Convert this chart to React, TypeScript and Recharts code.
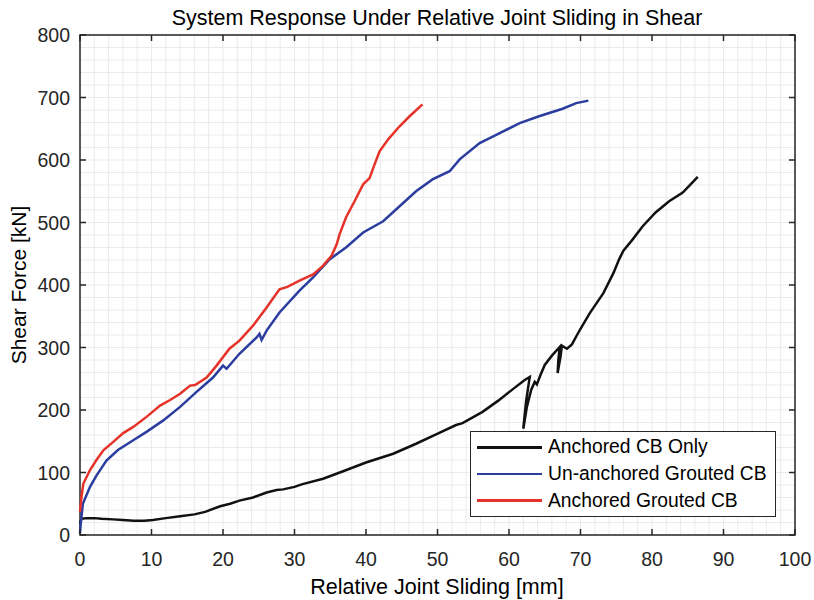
import {
  LineChart,
  Line,
  XAxis,
  YAxis,
  CartesianGrid,
  ReferenceArea,
  Legend,
} from "recharts";

// slip [mm], force [kN]
const anchoredCbOnly = [
  [0, 18], [0.2, 26], [1, 27], [2, 27], [3, 26], [4.6, 25], [6, 24], [7.5, 23],
  [9, 23], [10.2, 24], [12, 27], [14, 30], [16, 33], [17.5, 37], [19.6, 46],
  [21, 50], [22.3, 55], [24.2, 60], [26.1, 68], [27.5, 72], [28.4, 73], [30, 77],
  [31, 81], [34, 90], [36.8, 102], [40, 116], [43.8, 130], [47, 146], [49.8, 161],
  [52.6, 176], [53.5, 179], [56.3, 197], [58.5, 215], [60.5, 233], [62.2, 248],
  [62.9, 253], [62.4, 215], [62, 170], [62.5, 205], [63.1, 232], [63.6, 245],
  [63.9, 241], [64.4, 256], [65, 272], [66, 287], [67.1, 301], [66.9, 280],
  [66.8, 259], [67.2, 285], [67.4, 303], [68.1, 298], [68.8, 305], [69.9, 328],
  [71.3, 355], [73.2, 387], [74.6, 419], [75.4, 441], [76, 455], [77.3, 473],
  [78.7, 494], [80.5, 516], [82.4, 534], [84.3, 548], [85.4, 561], [86.4, 573],
];

const unanchoredGroutedCb = [
  [0, 3], [0.1, 18], [0.4, 50], [1.4, 77], [2.3, 95], [3.7, 119], [5.3, 136],
  [7.5, 152], [9.3, 165], [11.6, 183], [14, 205], [16.3, 229], [18.6, 252],
  [20, 271], [20.5, 266], [22.3, 290], [24.7, 316], [25.1, 322], [25.4, 312],
  [26.1, 327], [27.9, 356], [30.7, 391], [32.6, 412], [34.9, 441], [37.2, 460],
  [39.6, 484], [42.4, 502], [44.7, 526], [47, 550], [49.3, 569], [51.7, 582],
  [53.1, 601], [55.9, 627], [58.7, 643], [61.5, 659], [64.2, 670], [67.5, 682],
  [69.4, 691], [71.1, 695],
];

const anchoredGroutedCb = [
  [0, 37], [0.2, 60], [0.46, 82], [1.4, 104], [2.3, 120], [3.3, 136], [4.65, 149],
  [6.05, 163], [7.45, 173], [9.3, 189], [11.2, 207], [12.6, 216], [14, 226],
  [15.4, 239], [16.1, 240], [17.7, 252], [19.1, 271], [20.9, 298], [22.3, 311],
  [24.2, 335], [26.1, 364], [27.9, 393], [29, 397], [30.7, 407], [32.6, 417],
  [34, 431], [35.2, 447], [35.9, 465], [36.3, 481], [37.2, 508], [38.4, 534],
  [39.6, 561], [40.5, 571], [41.2, 593], [41.9, 614], [43.1, 633], [44.7, 654],
  [46.1, 670], [47.9, 689],
];

const xTicks = [0, 10, 20, 30, 40, 50, 60, 70, 80, 90, 100];
const yTicks = [0, 100, 200, 300, 400, 500, 600, 700, 800];
const xMinorTicks = [
  0, 2, 4, 6, 8, 10, 12, 14, 16, 18, 20, 22, 24, 26, 28, 30, 32, 34, 36, 38, 40, 42, 44, 46, 48, 50,
  52, 54, 56, 58, 60, 62, 64, 66, 68, 70, 72, 74, 76, 78, 80, 82, 84, 86, 88, 90, 92, 94, 96, 98, 100,
];
const yMinorTicks = [
  0, 20, 40, 60, 80, 100, 120, 140, 160, 180, 200, 220, 240, 260, 280, 300, 320, 340, 360, 380, 400,
  420, 440, 460, 480, 500, 520, 540, 560, 580, 600, 620, 640, 660, 680, 700, 720, 740, 760, 780, 800,
];

const seriesNames = ["Anchored CB Only", "Un-anchored Grouted CB", "Anchored Grouted CB"];
const seriesColors = ["#111111", "#2b3d9e", "#e5332a"];

const toPoints = (arr: number[][]) => arr.map(([x, y]) => ({ x, y }));

const FONT = "'Liberation Sans', Arial, Helvetica, sans-serif";
const INK = "#262626";
// plot box in svg coords
const PL = 80, PR = 795, PT = 35, PB = 535;

const XTick = (props: any) => {
  const { x, payload } = props;
  return (
    <g>
      <line x1={x} x2={x} y1={PB} y2={PB - 6} stroke={INK} strokeWidth={1.5} />
      <line x1={x} x2={x} y1={PT} y2={PT + 6} stroke={INK} strokeWidth={1.5} />
      <text x={x} y={566} textAnchor="middle" fontSize={19.5} fill={INK} fontFamily={FONT}>
        {payload.value}
      </text>
    </g>
  );
};

const YTick = (props: any) => {
  const { y, payload } = props;
  return (
    <g>
      <line x1={PL} x2={PL + 6} y1={y} y2={y} stroke={INK} strokeWidth={1.5} />
      <line x1={PR} x2={PR - 6} y1={y} y2={y} stroke={INK} strokeWidth={1.5} />
      <text x={70} y={y} textAnchor="end" dominantBaseline="central" fontSize={19.5} fill={INK} fontFamily={FONT}>
        {payload.value}
      </text>
    </g>
  );
};

const renderLegend = () => (
  <div
    style={{
      border: `1px solid ${INK}`,
      background: "#fff",
      width: 304,
      padding: "2px 0",
      fontFamily: FONT,
      fontSize: 19.3,
      color: "#000",
    }}
  >
    {seriesNames.map((name, i) => (
      <div key={name} style={{ display: "flex", alignItems: "center", height: 26.7 }}>
        <div style={{ width: 65, height: 2.5, background: seriesColors[i], marginLeft: 6, marginRight: 6 }} />
        <span>{name}</span>
      </div>
    ))}
  </div>
);

// minor grid through the axis scales
const applyScale = (axis: any, t: number) => {
  const s = axis && axis.scale;
  if (typeof s === "function") return s(t);
  if (s && typeof s.map === "function") return s.map(t);
  if (s && typeof s.apply === "function") return s.apply(t);
  return undefined;
};
const minorVertical = ({ xAxis }: any) =>
  xMinorTicks.map((t) => applyScale(xAxis, t)).filter((v) => typeof v === "number");
const minorHorizontal = ({ yAxis }: any) =>
  yMinorTicks.map((t) => applyScale(yAxis, t)).filter((v) => typeof v === "number");

export default function App() {
  return (
    <div style={{ width: 814, height: 600 }}>
      <style>{"html,body{margin:0;overflow:hidden}"}</style>
      <LineChart
        width={814}
        height={600}
        margin={{ top: 35, right: 19, bottom: 35, left: 20 }}
      >
        <CartesianGrid
          stroke="#ebebeb"
          strokeWidth={1}
          verticalCoordinatesGenerator={minorVertical}
          horizontalCoordinatesGenerator={minorHorizontal}
        />
        <XAxis
          type="number"
          dataKey="x"
          domain={[0, 100]}
          ticks={xTicks}
          interval={0}
          height={30}
          tickLine={false}
          axisLine={false}
          tick={XTick}
        />
        <YAxis
          type="number"
          dataKey="y"
          domain={[0, 800]}
          ticks={yTicks}
          interval={0}
          width={60}
          tickLine={false}
          axisLine={false}
          tick={YTick}
        />
        {[anchoredCbOnly, unanchoredGroutedCb, anchoredGroutedCb].map((s, i) => (
          <Line
            key={seriesNames[i]}
            data={toPoints(s)}
            dataKey="y"
            name={seriesNames[i]}
            type="linear"
            stroke={seriesColors[i]}
            strokeWidth={2.5}
            dot={false}
            isAnimationActive={false}
          />
        ))}
        <ReferenceArea x1={0} x2={100} y1={0} y2={800} fill="none" stroke={INK} strokeWidth={1.5} />
        <Legend
          layout="vertical"
          align="center"
          verticalAlign="middle"
          content={renderLegend}
          wrapperStyle={{ left: 470, top: 431, width: 306 }}
        />
        <text x={437} y={25} textAnchor="middle" fontSize={21.5} fill="#000" fontFamily={FONT}>
          System Response Under Relative Joint Sliding in Shear
        </text>
        <text x={437} y={594} textAnchor="middle" fontSize={21.5} fill="#000" fontFamily={FONT}>
          Relative Joint Sliding [mm]
        </text>
        <text
          x={18}
          y={285}
          textAnchor="middle"
          dominantBaseline="central"
          fontSize={21}
          fill="#000"
          fontFamily={FONT}
          transform="rotate(-90 18 285)"
        >
          Shear Force [kN]
        </text>
      </LineChart>
    </div>
  );
}
